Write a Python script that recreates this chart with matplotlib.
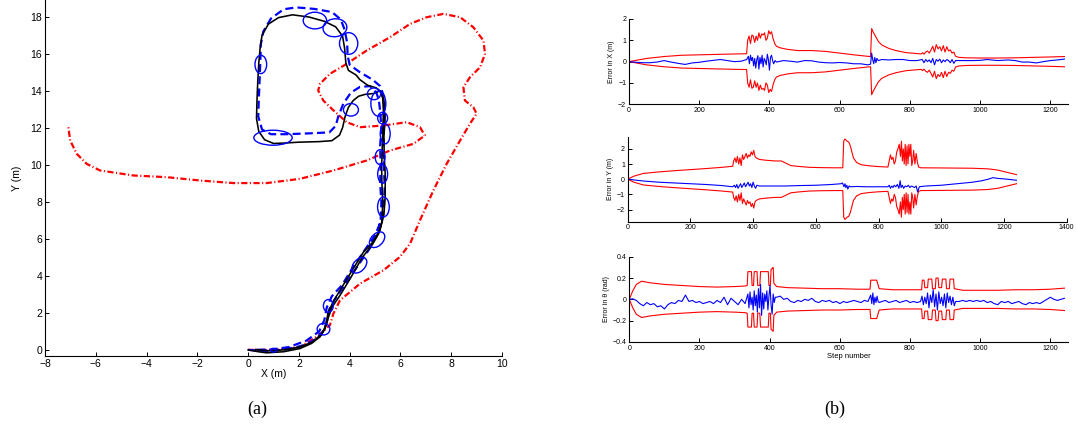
import numpy as np
import matplotlib
matplotlib.use("Agg")
import matplotlib.pyplot as plt
from matplotlib.patches import Ellipse

plt.rcParams['font.family'] = ['Liberation Sans', 'DejaVu Sans']

# ---------------- (a) trajectories ----------------
black_x = [0, 0.4, 0.73, 1.4, 2.04, 2.5, 2.83, 3.03, 3.15, 3.3, 3.6, 4.0, 4.5, 4.9, 5.15, 5.28, 5.3, 5.27, 5.26, 5.28, 5.3, 5.33, 5.3, 5.2,
           4.95, 4.6, 4.35, 4.14, 3.95, 3.82, 3.72, 3.6, 3.3, 2.8, 2.0, 1.4, 1.0, 0.65, 0.42, 0.33, 0.35, 0.38, 0.42, 0.48, 0.55,
           0.8, 1.2, 1.75, 2.4, 3.0, 3.45, 3.72, 3.8, 3.85, 3.95, 4.25, 4.4, 4.7, 5.05, 5.25, 5.35, 5.38, 5.35, 5.36, 5.4, 5.4,
           5.35, 5.2, 4.9, 4.55, 4.1, 3.7, 3.35, 3.15, 3.05, 2.9, 2.5, 2.0, 1.4, 0.8, 0.3]
black_y = [0, -0.1, -0.16, -0.1, 0.07, 0.35, 0.7, 1.15, 1.7, 2.3, 2.9, 3.8, 5.0, 5.7, 6.3, 7.0, 8.1, 9.0, 9.9, 10.8, 11.7, 12.9, 13.6, 14.0,
           13.85, 13.8, 13.7, 13.47, 13.1, 12.6, 12.0, 11.6, 11.3, 11.25, 11.22, 11.17, 11.15, 11.35, 11.8, 12.5, 13.5, 14.5, 15.5, 16.4, 17.0,
           17.6, 17.95, 18.1, 17.98, 17.75, 17.45, 16.95, 16.3, 15.5, 15.1, 14.85, 14.6, 14.3, 14.15, 13.9, 13.5, 12.5, 11.5, 10.5, 9.5, 8.3,
           7.3, 6.5, 5.8, 5.3, 4.3, 3.4, 2.6, 2.0, 1.3, 0.85, 0.4, 0.15, 0.0, -0.05, 0.02]

blue_x = [0, 0.5, 1.0, 1.6, 2.2, 2.7, 2.95, 3.1, 3.2, 3.4, 3.8, 4.3, 4.8, 5.1, 5.22, 5.25, 5.2, 5.22, 5.2, 5.25, 5.2, 5.15, 5.05,
          4.8, 4.4, 4.05, 3.75, 3.55, 3.45, 3.2, 2.5, 1.5, 0.9, 0.55, 0.4, 0.42, 0.45, 0.48, 0.5, 0.6, 0.9, 1.4, 1.9, 2.6, 3.3,
          3.65, 3.8, 3.9, 3.92, 4.0, 4.4, 4.9, 5.2, 5.35, 5.4, 5.35, 5.32, 5.35, 5.38, 5.35, 5.25, 5.0, 4.6, 4.1, 3.7, 3.3, 3.1,
          3.0, 2.8, 2.3, 1.6, 0.9, 0.3]
blue_y = [0, -0.05, -0.05, 0.05, 0.25, 0.6, 1.0, 1.5, 2.2, 2.7, 3.5, 4.5, 5.5, 6.3, 7.0, 8.0, 9.0, 10.0, 11.0, 12.0, 12.9, 13.5, 13.9,
          14.25, 14.2, 13.9, 13.3, 12.6, 12.1, 11.75, 11.7, 11.65, 11.65, 11.9, 12.6, 13.5, 14.5, 15.5, 16.5, 17.2, 17.9, 18.4, 18.5, 18.42, 18.25,
          17.85, 17.3, 16.6, 15.9, 15.4, 15.0, 14.6, 14.25, 13.7, 12.8, 11.8, 10.8, 9.8, 8.8, 7.8, 7.0, 6.2, 5.4, 4.4, 3.5, 2.9, 2.3,
          1.6, 1.0, 0.5, 0.15, 0.02, 0.0]

red_x = [0, 1.0, 2.04, 2.8, 3.22, 3.36, 3.62, 4.41, 5.33, 5.98, 6.38, 6.77, 7.3, 7.82, 8.35, 8.74, 9.0, 8.87, 8.54, 8.48, 8.74,
         9.14, 9.33, 9.27, 8.87, 8.35, 7.69, 7.04, 6.38, 5.59, 4.67, 3.88, 3.22, 2.83, 2.76, 2.96, 3.36, 3.88, 4.41, 5.33, 6.25,
         6.77, 6.96, 6.51, 5.59, 4.67, 3.36, 2.04, 0.73, -0.58, -1.9, -3.21, -4.52, -5.83, -6.36, -6.75, -7.01, -7.08]
red_y = [0, 0.0, 0.16, 0.8, 1.33, 1.96, 2.68, 3.58, 4.3, 5.02, 5.74, 7.0, 8.62, 10.05, 11.31, 12.22, 12.76, 13.11, 13.47, 14.19, 14.73,
         15.27, 15.99, 16.71, 17.43, 17.97, 18.15, 17.97, 17.61, 16.89, 16.17, 15.45, 14.91, 14.37, 14.01, 13.47, 12.94, 12.3, 12.03, 12.12, 12.3,
         12.03, 11.58, 11.13, 10.77, 10.23, 9.69, 9.24, 9.01, 9.01, 9.15, 9.33, 9.42, 9.69, 10.05, 10.59, 11.31, 12.03]

ell_cx = [2.63, 3.42, 3.96, 0.5, 0.98, 4.05, 4.96, 5.13, 5.3, 5.4, 5.2, 5.3, 5.33, 5.08, 4.38, 3.16, 2.97, 1.0]
ell_cy = [17.79, 17.4, 16.55, 15.42, 11.46, 12.97, 13.83, 13.3, 12.52, 11.67, 10.41, 9.5, 7.72, 5.95, 4.57, 2.38, 1.12, -0.02]
ell_w = [0.92, 0.92, 0.72, 0.46, 1.51, 0.59, 0.52, 0.59, 0.39, 0.39, 0.39, 0.39, 0.46, 0.52, 0.5, 0.39, 0.5, 0.22]
ell_h = [0.9, 0.99, 1.17, 0.99, 0.81, 0.68, 0.63, 1.35, 0.63, 1.08, 0.81, 0.99, 1.08, 0.9, 0.9, 0.68, 0.63, 0.2]
ell_ang = [0, -30, 0, 0, 0, 0, 0, 0, 0, 0, 0, 0, 0, -25, -25, 0, 0, 0]

# ---------------- (b) errors ----------------
sx_steps = [0, 20, 50, 100, 150, 200, 250, 300, 335, 338, 342, 346, 350, 354, 358, 362, 366, 370, 374, 378, 382, 386, 390, 394, 398,
            402, 406, 410, 415, 420, 430, 450, 480, 520, 560, 600, 640, 680, 688, 691, 695, 700, 710, 720, 740, 760, 790, 820, 832,
            836, 840, 845, 850, 855, 860, 865, 870, 875, 880, 885, 890, 895, 900, 905, 910, 915, 920, 925, 930, 940, 960, 1000,
            1050, 1100, 1150, 1200, 1240]
sx_vals = [0, 0.06, 0.15, 0.24, 0.3, 0.32, 0.34, 0.36, 0.37, 1.0, 1.2, 0.85, 1.25, 1.2, 0.9, 1.2, 1.0, 1.35, 1.1, 1.3, 1.25, 1.35, 1.0, 1.1, 1.45,
           1.3, 1.4, 1.1, 0.85, 0.72, 0.65, 0.58, 0.52, 0.52, 0.48, 0.4, 0.32, 0.25, 0.24, 1.55, 1.4, 1.25, 0.95, 0.78, 0.62, 0.52, 0.42, 0.38, 0.36,
           0.42, 0.35, 0.45, 0.5, 0.4, 0.55, 0.72, 0.45, 0.8, 0.6, 0.7, 0.5, 0.75, 0.45, 0.7, 0.5, 0.55, 0.4, 0.45, 0.25, 0.2, 0.18, 0.17,
           0.17, 0.18, 0.2, 0.22, 0.24]

ex_steps = [0, 20, 40, 60, 80, 100, 120, 140, 160, 180, 200, 220, 240, 260, 280, 300, 320, 335,
            340, 343, 346, 349, 352, 355, 358, 361, 364, 367, 370, 373, 376, 379, 382, 385, 388, 391, 394, 397, 400, 403, 406, 409, 412,
            416, 420, 440, 460, 480, 500, 520, 540, 560, 580, 600, 620, 640, 660, 680, 688, 691, 694, 697, 700, 703, 706, 710, 720, 740,
            760, 780, 800, 820, 835, 840, 845, 850, 855, 860, 865, 870, 875, 880, 885, 890, 895, 900, 905, 910, 915, 920, 925, 930,
            950, 980, 1000, 1020, 1050, 1080, 1100, 1120, 1140, 1160, 1180, 1200, 1220, 1240]
ex_vals = [0, -0.03, -0.05, -0.05, -0.02, 0.05, -0.02, -0.08, -0.13, -0.06, -0.03, 0.02, 0.06, 0.1, 0.05, 0.0, 0.02, 0.1,
           0.25, -0.1, 0.3, 0.05, 0.2, -0.2, 0.15, -0.3, 0.1, 0.28, -0.35, 0.2, -0.1, 0.3, -0.25, 0.15, 0.05, -0.15, 0.35, 0.1, -0.4, 0.2, 0.3, 0.05, -0.1,
           0.05, -0.02, 0.05, 0.02, -0.02, 0.05, 0.04, -0.02, -0.05, -0.06, -0.04, -0.06, -0.1, -0.1, -0.15, -0.12, 0.4, 0.1, -0.1, 0.2, -0.05, 0.15, 0.05, 0.1, 0.08,
           0.1, 0.1, 0.05, 0.05, 0.1, -0.05, 0.1, 0.0, 0.08, -0.05, 0.15, -0.15, 0.1, 0.02, 0.12, -0.05, 0.08, 0.0, 0.1, 0.05, -0.05, 0.1, -0.08, 0.05,
           0.05, 0.05, 0.06, 0.1, 0.05, 0.08, 0.05, -0.02, -0.02, -0.06, 0.0, 0.05, 0.08, 0.12]

sy_steps = [0, 20, 50, 100, 150, 200, 250, 300, 335, 338, 342, 346, 350, 354, 358, 362, 366, 370, 374, 378, 382, 386, 390, 394, 398, 402,
            406, 410, 420, 440, 470, 490, 500, 510, 520, 540, 580, 620, 660, 686, 689, 693, 700, 705, 710, 715, 720, 730, 745, 770, 800,
            830, 834, 838, 842, 846, 850, 854, 858, 862, 866, 870, 873, 876, 879, 882, 885, 888, 891, 894, 897, 900, 903, 906, 909, 912,
            916, 920, 924, 928, 935, 1000, 1100, 1150, 1180, 1200, 1220, 1240]
sy_vals = [0, 0.2, 0.38, 0.48, 0.56, 0.63, 0.7, 0.78, 0.85, 1.2, 1.4, 1.1, 1.5, 1.0, 1.4, 0.9, 1.6, 1.3, 1.5, 1.7, 1.4, 1.6, 1.5, 1.8, 1.6, 1.9,
           1.5, 1.4, 1.3, 1.25, 1.2, 1.2, 1.1, 1.0, 0.9, 0.85, 0.78, 0.76, 0.75, 0.75, 2.5, 2.65, 2.5, 2.45, 2.2, 1.8, 1.4, 1.1, 0.95, 0.88, 0.83,
           0.8, 1.2, 1.6, 1.3, 1.45, 1.0, 1.2, 1.8, 2.0, 2.3, 1.5, 2.5, 1.2, 2.0, 1.0, 2.3, 0.9, 2.2, 1.0, 2.3, 1.5, 2.3, 0.9, 1.2, 1.9,
           1.0, 1.7, 1.1, 0.8, 0.75, 0.74, 0.72, 0.68, 0.6, 0.5, 0.4, 0.3]

ey_steps = [0, 20, 50, 100, 150, 200, 250, 300, 335, 340, 344, 348, 352, 356, 360, 364, 368, 372, 376, 380, 384, 388, 392, 396, 400, 404,
            408, 412, 420, 450, 500, 550, 600, 650, 680, 685, 690, 693, 696, 699, 702, 706, 710, 730, 760, 800, 830, 834, 838, 842, 846,
            850, 855, 860, 865, 869, 872, 876, 880, 885, 890, 895, 900, 905, 910, 915, 920, 925, 930, 950, 1000, 1050, 1100, 1130, 1150,
            1165, 1180, 1200, 1240]
ey_vals = [0, -0.05, -0.12, -0.2, -0.25, -0.3, -0.35, -0.42, -0.5, -0.4, -0.55, -0.35, -0.6, -0.45, -0.3, -0.55, -0.4, -0.25, -0.5, -0.35, -0.2, -0.45, -0.3, -0.55, -0.2, -0.45,
           -0.6, -0.4, -0.45, -0.45, -0.45, -0.42, -0.4, -0.35, -0.3, -0.25, -0.5, -0.3, -0.55, -0.4, -0.65, -0.45, -0.5, -0.48, -0.5, -0.5, -0.5, -0.4, -0.6, -0.45, -0.55,
           -0.4, -0.5, -0.35, -0.6, -0.1, -0.55, -0.4, -0.6, -0.45, -0.5, -0.4, -0.55, -0.45, -0.5, -0.55, -0.45, -0.85, -0.5, -0.45, -0.4, -0.3, -0.2, -0.1, 0.0,
           0.1, 0.05, 0.02, -0.07]

st_steps = [0, 10, 20, 35, 60, 100, 150, 200, 250, 300, 330, 336, 338, 348, 350, 354, 356, 364, 366, 372, 374, 396, 398, 402, 404, 410, 412,
            420, 450, 500, 550, 600, 650, 686, 688, 705, 712, 750, 800, 833, 835, 840, 842, 850, 852, 862, 864, 872, 874, 880, 882, 890,
            892, 902, 904, 912, 914, 924, 926, 950, 1000, 1050, 1100, 1150, 1200, 1240]
st_vals = [0, 0.08, 0.14, 0.17, 0.155, 0.14, 0.13, 0.12, 0.115, 0.12, 0.125, 0.13, 0.26, 0.26, 0.13, 0.13, 0.26, 0.26, 0.13, 0.13, 0.26, 0.26, 0.13, 0.13, 0.28, 0.3, 0.15,
           0.12, 0.11, 0.105, 0.1, 0.1, 0.095, 0.095, 0.18, 0.18, 0.1, 0.09, 0.09, 0.09, 0.18, 0.18, 0.11, 0.11, 0.19, 0.19, 0.1, 0.1, 0.2, 0.2, 0.11, 0.11,
           0.19, 0.19, 0.1, 0.1, 0.19, 0.19, 0.1, 0.085, 0.085, 0.085, 0.09, 0.09, 0.095, 0.105]

et_steps = [0, 10, 20, 30, 40, 50, 60, 70, 80, 90, 100, 110, 120, 130, 140, 150, 160, 170, 180, 190, 200, 210, 220, 230, 240, 250, 260,
            270, 280, 290, 300, 310, 320, 330,
            338, 341, 344, 347, 350, 353, 356, 359, 362, 365, 368, 371, 374, 377, 380, 383, 386, 389, 392, 395, 398, 401, 404, 407, 410, 413, 416,
            420, 430, 440, 450, 460, 470, 480, 490, 500, 510, 520, 530, 540, 550, 560, 570, 580, 590, 600, 610, 620, 630, 640, 650, 660, 670, 680,
            688, 691, 694, 697, 700, 703, 706, 709, 712,
            720, 730, 740, 750, 760, 770, 780, 790, 800, 810, 820, 830,
            834, 838, 842, 846, 850, 854, 858, 862, 866, 870, 874, 878, 882, 886, 890, 894, 898, 902, 906, 910, 914, 918, 922, 926, 930,
            940, 950, 960, 970, 980, 990, 1000, 1010, 1020, 1030, 1040, 1050, 1060, 1070, 1080, 1090, 1100, 1110, 1120, 1130, 1140, 1150,
            1160, 1170, 1180, 1190, 1200, 1210, 1220, 1230, 1240]
et_vals = [0.0, 0.005, -0.01, -0.04, -0.06, -0.03, -0.05, -0.04, -0.07, -0.06, -0.09, -0.05, -0.03, -0.04, -0.01, -0.02, 0.04, -0.02, -0.01, -0.03, -0.02, -0.04, -0.03, -0.02, -0.04, -0.01, -0.03,
           0.02, -0.05, 0.01, -0.02, -0.05, 0.0, -0.04,
           0.05, -0.08, 0.07, -0.05, 0.02, -0.1, 0.08, -0.06, 0.04, -0.12, 0.1, -0.08, 0.14, -0.15, 0.06, -0.09, 0.05, -0.02, 0.08, -0.1, 0.03, 0.13, -0.05, -0.14, 0.05, -0.03, 0.02,
           0.02, 0.03, 0.0, 0.01, -0.02, -0.03, -0.01, -0.02, 0.0, -0.01, 0.01, -0.02, -0.03, -0.01, -0.02, -0.01, -0.03, -0.02, -0.04, -0.02, -0.03, -0.02, -0.01, -0.02, -0.03, -0.01, -0.02,
           0.04, -0.04, 0.06, -0.05, 0.02, -0.03, 0.03, -0.02, -0.03,
           -0.02, -0.01, -0.03, -0.02, -0.01, -0.03, -0.02, -0.01, -0.03, -0.02, -0.03, -0.02,
           0.03, -0.05, 0.02, -0.04, 0.06, -0.08, 0.04, -0.03, 0.09, -0.07, 0.05, -0.1, 0.07, -0.04, 0.02, -0.06, 0.05, -0.08, 0.06, -0.03, 0.03, -0.05, 0.02, -0.06, -0.02,
           -0.02, -0.01, -0.02, -0.01, -0.02, -0.01, -0.02, -0.01, -0.03, -0.02, -0.04, -0.05, -0.02, -0.03, -0.02, -0.04, -0.03, -0.02, -0.04, -0.05, -0.03, -0.04,
           -0.03, -0.04, -0.02, 0.0, 0.02, 0.0, -0.01, 0.0, 0.01]

RED = '#ff0000'
BLUE = '#0000ff'


def matlab_style(ax, fs):
    for s in ['top', 'right']:
        ax.spines[s].set_visible(False)
    for s in ['left', 'bottom']:
        ax.spines[s].set_linewidth(0.8)
    ax.tick_params(direction='in', length=3, width=0.7, labelsize=fs, pad=2)


fig = plt.figure(figsize=(10.77, 4.25), dpi=100)

# (a)
ax = fig.add_axes([0.0418, 0.1624, 0.4243, 0.8376])
ax.plot(red_x, red_y, color=RED, lw=1.6, linestyle=(0, (2.8, 1.1, 0.5, 1.1)), zorder=2)
ax.plot(blue_x, blue_y, color=BLUE, lw=1.6, linestyle=(0, (3.6, 1.9)), zorder=3)
ax.plot(black_x, black_y, color='black', lw=1.15, zorder=4)
for cx, cy, w, h, a in zip(ell_cx, ell_cy, ell_w, ell_h, ell_ang):
    ax.add_patch(Ellipse((cx, cy), w, h, angle=a, fill=False, edgecolor=BLUE, lw=1.0, zorder=5))
ax.set_xlim(-8, 10)
ax.set_ylim(-0.33, 18.9)
ax.set_xticks(np.arange(-8, 11, 2))
ax.set_yticks(np.arange(0, 19, 2))
ax.set_xticklabels(['\u22128', '\u22126', '\u22124', '\u22122', '0', '2', '4', '6', '8', '10'])
matlab_style(ax, 7.5)
ax.set_xlabel('X (m)', fontsize=7.5, labelpad=0)
ax.set_ylabel('Y (m)', fontsize=7.5, labelpad=6)
fig.text(0.2386, 0.038, '(a)', family='Liberation Serif', fontsize=13, ha='center', va='center')
fig.text(0.7755, 0.038, '(b)', family='Liberation Serif', fontsize=13, ha='center', va='center')

# (b) X
a1 = fig.add_axes([0.584, 0.7546, 0.4076, 0.2007])
sx = np.array(sx_vals)
a1.plot(sx_steps, sx, color=RED, lw=0.8)
a1.plot(sx_steps, -sx, color=RED, lw=0.8)
a1.plot(ex_steps, ex_vals, color=BLUE, lw=0.8)
a1.set_xlim(0, 1250)
a1.set_ylim(-2, 2)
a1.set_xticks(np.arange(0, 1201, 200))
a1.set_yticks([-2, -1, 0, 1, 2])
a1.set_yticklabels(['\u22122', '\u22121', '0', '1', '2'])
matlab_style(a1, 5)
a1.set_ylabel('Error in X (m)', fontsize=5, labelpad=2)

# (b) Y
a2 = fig.add_axes([0.5828, 0.4784, 0.4076, 0.2000])
sy = np.array(sy_vals)
a2.plot(sy_steps, sy, color=RED, lw=0.8)
a2.plot(sy_steps, -sy, color=RED, lw=0.8)
a2.plot(ey_steps, ey_vals, color=BLUE, lw=0.8)
a2.set_xlim(0, 1400)
a2.set_ylim(-2.8, 2.8)
a2.set_xticks(np.arange(0, 1401, 200))
a2.set_yticks([-2, -1, 0, 1, 2])
a2.set_yticklabels(['\u22122', '\u22121', '0', '1', '2'])
matlab_style(a2, 5)
a2.set_ylabel('Error in Y (m)', fontsize=5, labelpad=2)

# (b) theta
a3 = fig.add_axes([0.5843, 0.1953, 0.4073, 0.2007])
st = np.array(st_vals)
a3.plot(st_steps, st, color=RED, lw=0.8)
a3.plot(st_steps, -st, color=RED, lw=0.8)
a3.plot(et_steps, et_vals, color=BLUE, lw=0.8)
a3.set_xlim(0, 1250)
a3.set_ylim(-0.4, 0.4)
a3.set_xticks(np.arange(0, 1201, 200))
a3.set_yticks([-0.4, -0.2, 0, 0.2, 0.4])
a3.set_yticklabels(['\u22120.4', '\u22120.2', '0', '0.2', '0.4'])
matlab_style(a3, 5)
a3.set_ylabel('Error in \u03b8 (rad)', fontsize=5, labelpad=2)
a3.set_xlabel('Step number', fontsize=5.5, labelpad=1)

fig.savefig('out.png', dpi=100)
